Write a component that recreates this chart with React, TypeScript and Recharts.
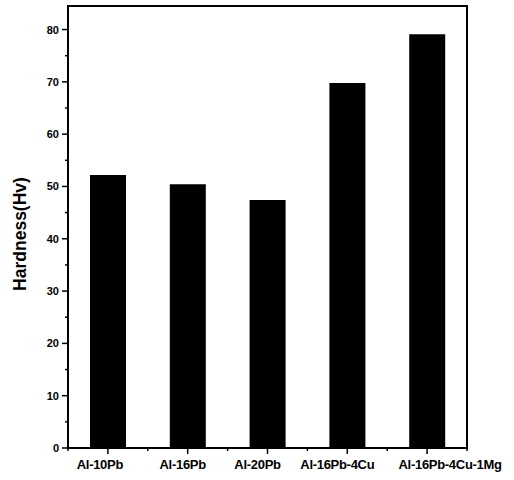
import { Bar, BarChart, ReferenceArea, XAxis, YAxis } from "recharts";

const alloys = ["Al-10Pb", "Al-16Pb", "Al-20Pb", "Al-16Pb-4Cu", "Al-16Pb-4Cu-1Mg"];
const hardness = [52.2, 50.4, 47.4, 69.8, 79.1];
const yTicks = [0, 5, 10, 15, 20, 25, 30, 35, 40, 45, 50, 55, 60, 65, 70, 75, 80];
const yDomain = [0, 84.5];

const W = 514;
const H = 480;
const M = { top: 6, right: 47, bottom: 0, left: 0 };
const Y_W = 68;
const BAND = (W - M.left - M.right - Y_W) / alloys.length;
// labels in the original sit a little off their ticks
const LABEL_DX = [-8, -5, -10, -10, 23];

const FONT = '"Liberation Sans", Arial, sans-serif';

const data = alloys.map((name, i) => ({ name, hv: hardness[i] }));

function YTick({ x, y, payload }: any) {
  const major = payload.value % 10 === 0;
  return (
    <g>
      <line x1={x - (major ? 6 : 3)} x2={x} y1={y} y2={y} stroke="#000" strokeWidth={1.5} />
      {major && (
        <text x={x - 9} y={y} dy={4} textAnchor="end" fontFamily={FONT} fontWeight="bold" fontSize={11} fill="#000">
          {payload.value}
        </text>
      )}
    </g>
  );
}

function XTick({ x, y, payload, index }: any) {
  const last = index === alloys.length - 1;
  return (
    <g>
      <line x1={x} x2={x} y1={y} y2={y + 6} stroke="#000" strokeWidth={1.5} />
      <line x1={x - BAND / 2} x2={x - BAND / 2} y1={y} y2={y + 3} stroke="#000" strokeWidth={1.5} />
      {last && <line x1={x + BAND / 2} x2={x + BAND / 2} y1={y} y2={y + 3} stroke="#000" strokeWidth={1.5} />}
      <text x={x + (LABEL_DX[index] ?? 0)} y={y + 21} textAnchor="middle" fontFamily={FONT} fontWeight="bold" fontSize={13} letterSpacing={-0.3} fill="#000">
        {payload.value}
      </text>
    </g>
  );
}

function YLabel({ viewBox }: any) {
  const cx = 20;
  const cy = viewBox.y + viewBox.height / 2 + 7;
  return (
    <text
      x={cx}
      y={cy}
      transform={`rotate(-90, ${cx}, ${cy})`}
      textAnchor="middle"
      dominantBaseline="central"
      fontFamily={FONT}
      fontWeight="bold"
      fontSize={17.5}
      fill="#000"
    >
      Hardness(Hv)
    </text>
  );
}

export default function App() {
  return (
    <div style={{ position: "absolute", left: 0, top: 0, width: W, height: H, background: "#fff" }}>
      <BarChart width={W} height={H} data={data} margin={M} barSize={36}>
        <XAxis
          dataKey="name"
          height={32}
          axisLine={{ stroke: "#000", strokeWidth: 2 }}
          tickLine={false}
          tickSize={0}
          tickMargin={0}
          tick={<XTick />}
          interval={0}
        />
        <YAxis
          yAxisId="left"
          width={Y_W}
          domain={yDomain}
          ticks={yTicks}
          interval={0}
          axisLine={{ stroke: "#000", strokeWidth: 2 }}
          tickLine={false}
          tickSize={0}
          tickMargin={0}
          tick={<YTick />}
          label={{ content: <YLabel /> }}
        />
        <Bar yAxisId="left" dataKey="hv" fill="#000" isAnimationActive={false} />
        <ReferenceArea yAxisId="left" y1={0} y2={84.5} fill="none" stroke="#000" strokeWidth={2} />
      </BarChart>
    </div>
  );
}
